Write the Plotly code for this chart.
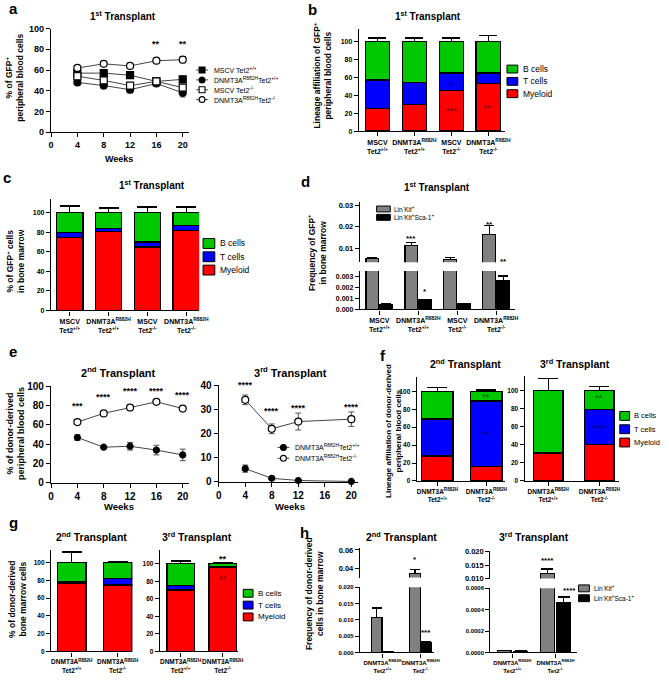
import plotly.graph_objects as go

W, H = 669, 685
FONT = "Liberation Sans"
GREEN, BLUE, RED = "#00C800", "#0000FF", "#FF0000"
GRAY = "#808080"
DARK = "rgba(0,0,0,0.45)"

# ---------------- data ----------------
weeks = [4, 8, 12, 16, 20]
week_ticks = [0, 4, 8, 12, 16, 20]

# panel a: 1st transplant, % GFP+ peripheral blood
a_names = ["MSCV Tet2<sup>+/+</sup>", "DNMT3A<sup>R882H</sup>Tet2<sup>+/+</sup>",
           "MSCV Tet2<sup>-/-</sup>", "DNMT3A<sup>R882H</sup>Tet2<sup>-/-</sup>"]
a_mscv_wt = [57, 57, 55, 49, 51]
a_mscv_wt_err = [2, 2, 2, 3, 3]
a_dnmt_wt = [48, 45, 41, 47, 38]
a_dnmt_wt_err = [2, 3, 3, 2, 4]
a_mscv_ko = [54, 50, 45, 49, 43]
a_mscv_ko_err = [2, 2, 2, 2, 2]
a_dnmt_ko = [62, 66, 64, 69, 70]
a_dnmt_ko_err = [1, 1, 2, 2, 3]
a_stars = ["", "", "", "**", "**"]
a_star_y = [0, 0, 0, 85, 85]

# groups
groups4 = ["MSCV<br>Tet2<sup>+/+</sup>", "DNMT3A<sup>R882H</sup><br>Tet2<sup>+/+</sup>",
           "MSCV<br>Tet2<sup>-/-</sup>", "DNMT3A<sup>R882H</sup><br>Tet2<sup>-/-</sup>"]
groups2 = ["DNMT3A<sup>R882H</sup><br>Tet2<sup>+/+</sup>", "DNMT3A<sup>R882H</sup><br>Tet2<sup>-/-</sup>"]
lineages = ["B cells", "T cells", "Myeloid"]
progenitors = ["Lin<sup>-</sup>Kit<sup>+</sup>", "Lin<sup>-</sup>Kit<sup>+</sup>Sca-1<sup>+</sup>"]

# panel b: lineage of GFP+ PB cells (stack: myeloid, T, B)
b_myeloid = [25, 30, 45, 53]
b_myeloid_err = [3, 4, 2, 5]
b_tcells = [32, 24, 20, 12]
b_tcells_err = [4, 3, 2, 2]
b_bcells = [43, 46, 35, 35]
b_bcells_err = [4, 4, 4, 7]

# panel c: lineage of GFP+ BM cells
c_myeloid = [75, 81, 65, 82]
c_myeloid_err = [1, 1, 1, 1]
c_tcells = [5, 3, 5, 5]
c_tcells_err = [1.5, 2.5, 1.5, 2.5]
c_bcells = [20, 16, 30, 13]
c_bcells_err = [7, 5, 6, 6]

# panel d: frequency of GFP+ progenitors in BM
d_lk = [0.0053, 0.0112, 0.0048, 0.0165]
d_lk_err = [0.0004, 0.0014, 0.0010, 0.0040]
d_lsk = [0.00045, 0.00088, 0.00050, 0.0026]
d_lsk_err = [0.00006, 0.00005, 0.00006, 0.00045]

# panel e: donor-derived PB, 2nd & 3rd transplant
e_names = ["DNMT3A<sup>R882H</sup>Tet2<sup>+/+</sup>", "DNMT3A<sup>R882H</sup>Tet2<sup>-/-</sup>"]
e2_wt = [47, 37, 38, 34, 29]
e2_wt_err = [3, 1, 4, 5, 6]
e2_ko = [63, 72, 78, 84, 77]
e2_ko_err = [1, 1, 3, 1, 1.5]
e2_stars = ["***", "****", "****", "****", "****"]
e2_star_y = [80, 89, 95, 95, 91]
e3_weeks = [4, 8, 12, 20]
e3_wt = [5.5, 1.5, 0.6, 0.2]
e3_wt_err = [1.5, 0.5, 0.4, 0.2]
e3_ko = [34, 22, 25, 26]
e3_ko_err = [2, 2, 3.5, 3]
e3_stars = ["****", "****", "****", "****"]
e3_star_y = [40, 29.5, 30.6, 31]

# panel f: lineage of donor-derived PB
f2_myeloid = [28, 16]
f2_myeloid_err = [7, 2]
f2_tcells = [41, 73]
f2_tcells_err = [8, 3]
f2_bcells = [31, 11]
f2_bcells_err = [4, 1.5]
f3_myeloid = [31, 40]
f3_myeloid_err = [13, 3]
f3_tcells = [0.5, 39]
f3_tcells_err = [0, 6]
f3_bcells = [68.5, 21]
f3_bcells_err = [13, 4]

# panel g: lineage of donor-derived BM
g2_myeloid = [77, 75]
g2_myeloid_err = [2, 0]
g2_tcells = [1.5, 7]
g2_tcells_err = [11, 2]
g2_bcells = [21.5, 18]
g2_bcells_err = [12, 1.5]
g3_myeloid = [70, 96]
g3_myeloid_err = [1, 0.5]
g3_tcells = [5, 1]
g3_tcells_err = [0.5, 0.5]
g3_bcells = [25, 3]
g3_bcells_err = [3, 1]

# panel h: donor-derived progenitors in BM
h2_lk = [0.0107, 0.035]
h2_lk_err = [0.003, 0.004]
h2_lsk = [0.0002, 0.003]
h2_lsk_err = [0.00003, 0.0002]
h3_lk = [0.000015, 0.0118]
h3_lk_err = [0.000003, 0.0018]
h3_lsk = [0.00001, 0.00047]
h3_lsk_err = [0.000003, 0.00005]

# ---------------- helpers ----------------
fig = go.Figure()
layout = dict(width=W, height=H, margin=dict(l=0, r=0, t=0, b=0, pad=0),
              paper_bgcolor="white", plot_bgcolor="rgba(0,0,0,0)",
              barmode="stack", showlegend=False,
              font=dict(family=FONT, color="black"))
ann, shapes = [], []
counter = [0]


def px(x):
    return x / W


def py(y):
    return 1 - y / H


def subplot(xpx, ypx, xr, yr, xkw=None, ykw=None, xshow=True, tsize=8):
    counter[0] += 1
    n = counter[0]
    s = "" if n == 1 else str(n)
    tf = dict(family=FONT, size=tsize, color="black", weight="bold")
    base = dict(showline=True, linecolor="black", linewidth=1.3, ticks="outside",
                ticklen=4, tickwidth=1.2, tickcolor="black", showgrid=False,
                zeroline=False, fixedrange=True, tickfont=tf, tickangle=0)
    xa = dict(base, domain=[px(xpx[0]), px(xpx[1])], range=xr, anchor="y" + s)
    ya = dict(base, domain=[py(ypx[1]), py(ypx[0])], range=yr, anchor="x" + s)
    if xkw:
        xa.update(xkw)
    if ykw:
        ya.update(ykw)
    if not xshow:
        xa["visible"] = False
    layout["xaxis" + s] = xa
    layout["yaxis" + s] = ya
    return "x" + s, "y" + s


def text(x, y, t, size=9, bold=True, xanchor="center", yanchor="middle", angle=0, color="black"):
    ann.append(dict(xref="paper", yref="paper", x=px(x), y=py(y),
                    text=("<b>%s</b>" % t) if bold else t, showarrow=False,
                    xanchor=xanchor, yanchor=yanchor, textangle=angle,
                    font=dict(family=FONT, size=size, color=color)))


def star(xref, yref, x, y, t, size=9, color="black"):
    if not t:
        return
    ann.append(dict(xref=xref, yref=yref, x=x, y=y, text="<b>%s</b>" % t,
                    showarrow=False, xanchor="center", yanchor="middle",
                    font=dict(family=FONT, size=size, color=color)))


def stacked(xref, yref, segs, width, cap):
    for vals, errs, color in segs:
        fig.add_bar(x=list(range(len(vals))), y=vals, xaxis=xref, yaxis=yref, width=width,
                    marker=dict(color=color, line=dict(color="black", width=1.4)),
                    error_y=dict(type="data", array=errs, arrayminus=[0] * len(errs),
                                 symmetric=False, color="black", thickness=1.3, width=cap))


def grouped(xref, yref, series, width, offset, cap):
    for k, (vals, errs, color) in enumerate(series):
        sgn = -1 if k == 0 else 1
        xs = [i + sgn * offset for i in range(len(vals))]
        fig.add_bar(x=xs, y=vals, xaxis=xref, yaxis=yref, width=width,
                    marker=dict(color=color, line=dict(color="black", width=1.3)),
                    error_y=dict(type="data", array=errs, arrayminus=[0] * len(errs),
                                 symmetric=False, color="black", thickness=1.3, width=cap))


def line_series(xref, yref, xs, ys, errs, symbol, filled, ms=7):
    fig.add_scatter(x=xs, y=ys, xaxis=xref, yaxis=yref, mode="lines+markers",
                    line=dict(color="#444444", width=1),
                    marker=dict(symbol=symbol, size=ms, color="black" if filled else "white",
                                line=dict(color="black", width=1.2)),
                    error_y=dict(type="data", array=errs, color="#555555", thickness=1, width=3),
                    cliponaxis=False)


def leg_box(x, y, color, label, size=8.5, bw=11, bh=8, gap=3):
    shapes.append(dict(type="rect", xref="paper", yref="paper", x0=px(x), x1=px(x + bw),
                       y0=py(y + bh / 2), y1=py(y - bh / 2), fillcolor=color,
                       line=dict(color="black", width=1)))
    text(x + bw + gap, y, label, size=size, bold=False, xanchor="left")


def leg_line(x, y, kind, filled, label, size=7, ms=6, ll=12, gap=4):
    shapes.append(dict(type="line", xref="paper", yref="paper", x0=px(x), x1=px(x + ll),
                       y0=py(y), y1=py(y), line=dict(color="#444444", width=1)))
    shapes.append(dict(type="circle" if kind == "circle" else "rect", xref="paper", yref="paper",
                       x0=px(x + ll / 2 - ms / 2), x1=px(x + ll / 2 + ms / 2),
                       y0=py(y + ms / 2), y1=py(y - ms / 2),
                       fillcolor="black" if filled else "white", line=dict(color="black", width=1.1)))
    text(x + ll + gap, y, label, size=size, bold=False, xanchor="left")


# ---------------- panel a ----------------
xa_, ya_ = subplot((49, 190), (24, 129), [0, 21], [0, 100],
                   xkw=dict(tickvals=week_ticks), ykw=dict(tickvals=[0, 20, 40, 60, 80, 100]), tsize=9)
line_series(xa_, ya_, weeks, a_mscv_wt, a_mscv_wt_err, "square", True)
line_series(xa_, ya_, weeks, a_dnmt_wt, a_dnmt_wt_err, "circle", True)
line_series(xa_, ya_, weeks, a_mscv_ko, a_mscv_ko_err, "square", False)
line_series(xa_, ya_, weeks, a_dnmt_ko, a_dnmt_ko_err, "circle", False)
for w, s, yv in zip(weeks, a_stars, a_star_y):
    star(xa_, ya_, w, yv, s, size=9)
text(4, 4, "a", size=15, xanchor="left")
text(122, 11, "1<sup>st</sup> Transplant", size=10)
text(118, 156, "Weeks", size=9)
text(12, 74, "% of GFP<sup>+</sup><br>peripheral blood cells", size=8.5, angle=-90)
for i, (nm, kind, fl) in enumerate(zip(a_names, ["square", "circle", "square", "circle"],
                                        [True, True, False, False])):
    leg_line(197, 66 + 10 * i, kind, fl, nm, size=7)

# ---------------- panel b ----------------
xb, yb = subplot((363, 512), (24, 128), [-0.5, 3.45], [0, 114.3],
                 xkw=dict(tickvals=[0, 1, 2, 3], ticktext=groups4),
                 ykw=dict(tickvals=[0, 20, 40, 60, 80, 100]), tsize=8)
layout["xaxis" + xb[1:]]["tickfont"]["size"] = 7
stacked(xb, yb, [(b_myeloid, b_myeloid_err, RED), (b_tcells, b_tcells_err, BLUE),
                 (b_bcells, b_bcells_err, GREEN)], 0.66, 9)
star(xb, yb, 2, 22, "***", color=DARK)
star(xb, yb, 3, 26, "**", color=DARK)
star(xb, yb, 2, 52, "*", color=DARK)
text(316, 5, "b", size=15)
text(433, 11, "1<sup>st</sup> Transplant", size=10)
text(326, 72, "Lineage affiliation of GFP<sup>+</sup><br>peripheral blood cells", size=8.5, angle=-90)
for i, (lab, col) in enumerate(zip(lineages, [GREEN, BLUE, RED])):
    leg_box(514, 65 + 12.5 * i, col, lab, size=8.5)

# ---------------- panel c ----------------
xc, yc = subplot((49, 200), (197, 310), [-0.48, 3.33], [0, 114],
                 xkw=dict(tickvals=[0, 1, 2, 3], ticktext=groups4),
                 ykw=dict(tickvals=[0, 20, 40, 60, 80, 100]), tsize=8)
layout["xaxis" + xc[1:]]["tickfont"]["size"] = 7
stacked(xc, yc, [(c_myeloid, c_myeloid_err, RED), (c_tcells, c_tcells_err, BLUE),
                 (c_bcells, c_bcells_err, GREEN)], 0.68, 10)
text(4, 175, "c", size=15)
text(152, 183, "1<sup>st</sup> Transplant", size=10)
text(13, 260, "% of GFP<sup>+</sup> cells<br>in bone marrow", size=8.5, angle=-90)
for i, (lab, col) in enumerate(zip(lineages, [GREEN, BLUE, RED])):
    leg_box(204, 242 + 13.5 * i, col, lab, size=8.5, bw=12, bh=10)

# ---------------- panel d ----------------
xd, yd = subplot((364, 522), (270, 309), [-0.5, 3.48], [0, 0.0035],
                 xkw=dict(tickvals=[0, 1, 2, 3], ticktext=groups4),
                 ykw=dict(tickvals=[0, 0.001, 0.002, 0.003], tickformat=".3f"), tsize=7.5)
layout["xaxis" + xd[1:]]["tickfont"]["size"] = 7
xd2, yd2 = subplot((364, 522), (200, 261), [-0.5, 3.48], [0.00364, 0.0314], xshow=False,
                   ykw=dict(tickvals=[0.01, 0.02, 0.03], tickformat=".2f"), tsize=7.5)
for xr_, yr_ in [(xd, yd), (xd2, yd2)]:
    grouped(xr_, yr_, [(d_lk, d_lk_err, GRAY), (d_lsk, d_lsk_err, "black")], 0.33, 0.18, 5)
star(xd2, yd2, 0.82, 0.0145, "***", size=8)
star(xd2, yd2, 2.82, 0.021, "**", size=8)
star(xd, yd, 1.18, 0.0016, "*", size=8)
star(xd2, yd2, 3.18, 0.0040, "**", size=8)
text(308, 179, "d", size=15)
text(443, 185, "1<sup>st</sup> Transplant", size=10)
text(321, 251, "Frequency of GFP<sup>+</sup><br>in bone marrow", size=8.5, angle=-90)
for i, (lab, col) in enumerate(zip(progenitors, [GRAY, "black"])):
    leg_box(381, 207 + 8.5 * i, col, lab, size=6.5, bw=14, bh=6, gap=2)

# ---------------- panel e ----------------
xe, ye = subplot((49, 190), (387, 485), [0, 21], [0, 100],
                 xkw=dict(tickvals=week_ticks), ykw=dict(tickvals=[0, 20, 40, 60, 80, 100]), tsize=10)
line_series(xe, ye, weeks, e2_wt, e2_wt_err, "circle", True, ms=6)
line_series(xe, ye, weeks, e2_ko, e2_ko_err, "circle", False, ms=7)
for w, s, yv in zip(weeks, e2_stars, e2_star_y):
    star(xe, ye, w, yv, s, size=9)
xe3, ye3 = subplot((220, 362), (386, 484), [0, 21], [0, 40],
                   xkw=dict(tickvals=week_ticks), ykw=dict(tickvals=[0, 10, 20, 30, 40]), tsize=10)
line_series(xe3, ye3, e3_weeks, e3_wt, e3_wt_err, "circle", True, ms=6)
line_series(xe3, ye3, e3_weeks, e3_ko, e3_ko_err, "circle", False, ms=7)
for w, s, yv in zip(e3_weeks, e3_stars, e3_star_y):
    star(xe3, ye3, w, yv, s, size=9)
text(4, 352, "e", size=15, xanchor="left")
text(118, 372, "2<sup>nd</sup> Transplant", size=11)
text(293, 372, "3<sup>rd</sup> Transplant", size=11)
text(118, 509, "Weeks", size=9.5)
text(293, 509, "Weeks", size=9.5)
text(12.5, 435, "% of donor-derived<br>peripheral blood cells", size=9, angle=-90)
for i, (nm, fl) in enumerate(zip(e_names, [True, False])):
    leg_line(280, 449 + 11 * i, "circle", fl, nm, size=7, ms=6)

# ---------------- panel f ----------------
xf, yf = subplot((422, 512), (378, 483), [-0.42, 1.38], [0, 115.4],
                 xkw=dict(tickvals=[0, 1], ticktext=groups2),
                 ykw=dict(tickvals=[0, 20, 40, 60, 80, 100]), tsize=8.5)
layout["xaxis" + xf[1:]]["tickfont"]["size"] = 6.5
stacked(xf, yf, [(f2_myeloid, f2_myeloid_err, RED), (f2_tcells, f2_tcells_err, BLUE),
                 (f2_bcells, f2_bcells_err, GREEN)], 0.64, 10)
star(xf, yf, 1, 52, "**", color=DARK)
star(xf, yf, 1, 94, "**", color=DARK)
xf3, yf3 = subplot((532, 628), (377, 483), [-0.46, 1.38], [0, 115.2],
                   xkw=dict(tickvals=[0, 1], ticktext=groups2),
                   ykw=dict(tickvals=[0, 20, 40, 60, 80, 100]), tsize=8.5)
layout["xaxis" + xf3[1:]]["tickfont"]["size"] = 6.5
stacked(xf3, yf3, [(f3_myeloid, f3_myeloid_err, RED), (f3_tcells, f3_tcells_err, BLUE),
                   (f3_bcells, f3_bcells_err, GREEN)], 0.58, 10)
star(xf3, yf3, 1, 58, "****", color=DARK)
star(xf3, yf3, 1, 91, "**", color=DARK)
text(388, 356, "f", size=15)
text(472, 364, "2<sup>nd</sup> Transplant", size=10.5)
text(583, 364, "3<sup>rd</sup> Transplant", size=10.5)
text(398, 432, "Lineage affiliation of donor-derived<br>peripheral blood cells", size=8, angle=-90)
for i, (lab, col) in enumerate(zip(lineages, [GREEN, BLUE, RED])):
    leg_box(629, 417 + 13.5 * i, col, lab, size=7.5, bw=10, bh=9, gap=2.5)

# ---------------- panel g ----------------
xg, yg = subplot((49, 132), (553, 656), [-0.45, 1.32], [0, 114.4],
                 xkw=dict(tickvals=[0, 1], ticktext=groups2),
                 ykw=dict(tickvals=[0, 20, 40, 60, 80, 100]), tsize=8.5)
layout["xaxis" + xg[1:]]["tickfont"]["size"] = 6.5
stacked(xg, yg, [(g2_myeloid, g2_myeloid_err, RED), (g2_tcells, g2_tcells_err, BLUE),
                 (g2_bcells, g2_bcells_err, GREEN)], 0.62, 10)
xg3, yg3 = subplot((160, 240), (553, 656), [-0.49, 1.37], [0, 115.7],
                   xkw=dict(tickvals=[0, 1], ticktext=groups2),
                   ykw=dict(tickvals=[0, 20, 40, 60, 80, 100]), tsize=8.5)
layout["xaxis" + xg3[1:]]["tickfont"]["size"] = 6.5
stacked(xg3, yg3, [(g3_myeloid, g3_myeloid_err, RED), (g3_tcells, g3_tcells_err, BLUE),
                   (g3_bcells, g3_bcells_err, GREEN)], 0.65, 10)
star(xg3, yg3, 1, 83, "**", color=DARK)
star(xg3, yg3, 1, 105, "**")
text(4, 525, "g", size=15, xanchor="left")
text(90, 539, "2<sup>nd</sup> Transplant", size=10.5)
text(198, 539, "3<sup>rd</sup> Transplant", size=10.5)
text(14, 603, "% of donor-derived<br>bone marrow cells", size=8.5, angle=-90)
for i, (lab, col) in enumerate(zip(lineages, [GREEN, BLUE, RED])):
    leg_box(245, 597 + 12 * i, col, lab, size=8, bw=10, bh=8)

# ---------------- panel h ----------------
xh, yh = subplot((364, 440), (591, 657), [-0.59, 1.36], [0, 0.020],
                 xkw=dict(tickvals=[0, 1], ticktext=groups2),
                 ykw=dict(tickvals=[0, 0.005, 0.01, 0.015, 0.02], tickformat=".3f"), tsize=7.5)
layout["xaxis" + xh[1:]]["tickfont"]["size"] = 6
xh2, yh2 = subplot((364, 440), (551, 581), [-0.59, 1.36], [0.0305, 0.0621], xshow=False,
                   ykw=dict(tickvals=[0.04, 0.06], tickformat=".2f"), tsize=7.5)
for xr_, yr_ in [(xh, yh), (xh2, yh2)]:
    grouped(xr_, yr_, [(h2_lk, h2_lk_err, GRAY), (h2_lsk, h2_lsk_err, "black")], 0.28, 0.15, 5)
star(xh2, yh2, 0.85, 0.050, "*", size=8)
star(xh, yh, 1.15, 0.0062, "***", size=8)
xh3, yh3 = subplot((497, 585), (592, 657), [-0.51, 1.49], [0, 0.0006],
                   xkw=dict(tickvals=[0, 1], ticktext=groups2),
                   ykw=dict(tickvals=[0, 0.0002, 0.0004, 0.0006], tickformat=".4f"), tsize=7.5)
layout["xaxis" + xh3[1:]]["tickfont"]["size"] = 6
xh4, yh4 = subplot((497, 585), (554, 582), [-0.51, 1.49], [0.010, 0.0203], xshow=False,
                   ykw=dict(tickvals=[0.010, 0.015, 0.020], tickformat=".3f"), tsize=7.5)
for xr_, yr_ in [(xh3, yh3), (xh4, yh4)]:
    grouped(xr_, yr_, [(h3_lk, h3_lk_err, GRAY), (h3_lsk, h3_lsk_err, "black")], 0.32, 0.19, 6)
star(xh4, yh4, 0.81, 0.0167, "****", size=8)
star(xh3, yh3, 1.33, 0.00058, "****", size=8)
text(307, 535, "h", size=15)
text(406, 539, "2<sup>nd</sup> Transplant", size=10.5)
text(542, 539, "3<sup>rd</sup> Transplant", size=10.5)
text(317, 597, "Frequency of donor-derived<br>cells in bone marrow", size=8.5, angle=-90)
for i, (lab, col) in enumerate(zip(progenitors, [GRAY, "black"])):
    leg_box(587, 592 + 10 * i, col, lab, size=6.5, bw=11, bh=7, gap=3)

layout["annotations"] = ann
layout["shapes"] = shapes
fig.update_layout(**layout)
fig.update_traces(hoverinfo="skip", selector=dict(type="bar"))
fig.write_html("out.html", config=dict(displayModeBar=False))
